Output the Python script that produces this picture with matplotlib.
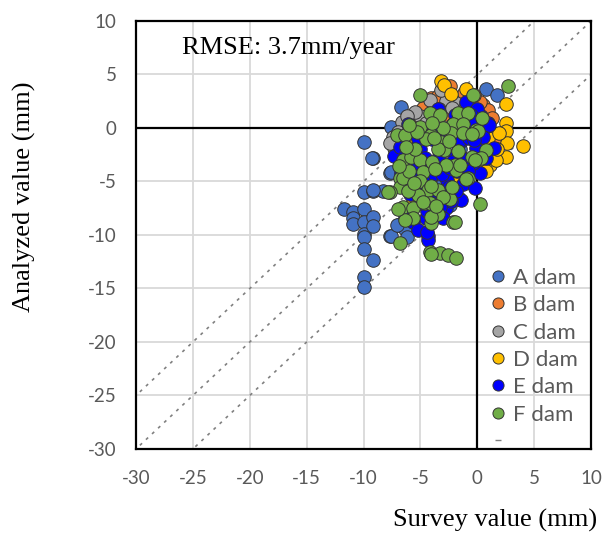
import matplotlib.pyplot as plt
from matplotlib.lines import Line2D
import numpy as np

plt.rcParams["font.family"] = "Lato"
plt.rcParams["axes.unicode_minus"] = False

# survey value (x) vs analyzed value (y), mm
a_x = [-11.7, -10.9, -10.9, -10.9, -10.0, -10.0, -10.0, -10.0, -10.0, -10.0,
       -10.0, -10.0, -9.2, -9.2, -9.2, -9.2, -9.2, -8.3, -10.0, -9.2, -9.3,
       -7.7, -7.7, -7.0, -6.4, -7.6, -6.2, -7.6, -6.7, -7.6, -6.4, -7.1, -2.4,
       0.8, 1.7, -3.5, -1.5]
a_y = [-7.6, -7.9, -8.4, -9.0, -7.6, -8.8, -9.9, -10.2, -11.3, -13.9,
       -14.9, -6.0, -5.9, -8.3, -9.2, -12.3, -2.8, -5.9, -1.3, -5.8, -2.8,
       -4.2, -10.1, -9.1, -9.4, -10.1, -10.2, 0.1, 2.0, -4.1, -8.3, -9.1, -7.2,
       3.6, 3.1, -5.5, -2.0]

b_x = [-2.4, -4.05, -4.8, -2.4, -1.7, 0.5, 0.9, 1.2, -6.5, -1.6, 0.6, 0.2,
       -0.8, -3.0, -1.2, -2.0, -3.5, -2.8, 0.1, -0.3, 1.3, -5.0, 1.5]
b_y = [3.9, 2.8, 1.9, 2.3, 2.8, 2.15, 1.7, -0.5, -1.3, -6.6, -1.1, 2.4,
       2.5, 2.6, 3.3, 1.5, 3.0, 1.3, 0.9, 3.1, 0.9, 0.9, -1.2]

c_x = [-1.85, -5.07, -7.4, -7.35, -5.5, -2.8, -4.5, -6.0, -5.4, -3.4, -6.6,
       -2.2, -7.0, -6.2, -4.2, -1.0, -7.7, -3.2]
c_y = [2.3, 1.1, -0.8, -1.9, 1.5, 2.5, 0.5, -0.3, -0.2, 1.8, 0.6, 1.9,
       -0.4, 1.1, 2.6, 2.1, -1.4, 3.5]

d_x = [-3.2, 2.5, 2.5, 2.55, 2.6, 4.0, 2.5, 1.1, -3.3, -5.1, 0.5, 1.2,
       -5.7, -5.95, -3.75, -5.5, -4.5, 0.3, 1.6, -2.9, 1.7, -1.0, 0.9,
       -4.2, -6.2, 0.8, 1.9, -0.5, -2.0, -4.8, -2.3]
d_y = [4.35, 2.25, 0.5, -0.25, -1.4, -1.7, -2.7, -3.45, 0.1, -1.1, -2.7,
       -2.7, -6.6, -5.5, -0.2, -5.8, -4.0, -3.2, -3.0, 4.0, -2.0, 3.6, -0.9,
       -4.8, -1.5, -4.0, -0.5, 1.0, -4.6, -5.6, 3.2]

e_x = [-6.1, -1.0, 0.3, 0.6, 1.5, 0.2, -1.4, -7.3, -5.8, -5.7, -3.2, -2.1,
       -0.1, -3.6, -4.05, -2.7, -1.3, -0.4, -5.1, -3.3, -5.7, -4.3, -4.3,
       -5.95, -4.5, -5.7, -6.5, -5.0, -2.0, -1.0, -3.5, 0.0, -0.5, -2.5,
       -3.8, -4.8, -5.5, -6.2, -2.8, -1.8, -3.0, -4.0, -0.6, -2.2, -4.6,
       -1.4, -3.1, -6.6, 0.9, -0.2, -6.8, -6.3, -5.2, -4.6, -3.9, -2.6,
       -1.6, -0.7, 0.5, 0.8, -0.8, -1.9, -2.3, -3.3, -4.4, -5.0, -5.9,
       -6.0, -6.7, -4.1, -3.4, -2.4, -1.2, -0.3, -3.6, -4.7, -5.3, -2.0,
       -0.4, 1.0, -3.0, -5.2, -4.4]
e_y = [0.4, 2.4, 1.1, 0.0, -1.9, -4.2, -6.7, -2.6, -3.55, -2.5, -0.3, 0.4,
       -1.9, -6.3, -4.5, -4.9, -5.2, -3.3, -6.4, -3.8, -8.6, -10.1, -10.5,
       -8.0, -8.4, -8.75, -1.4, -2.0, -2.5, 0.0, 1.8, 1.8, -2.8, -5.5,
       -7.0, -5.0, -4.5, -3.2, -7.5, -4.0, -1.5, -1.0, 1.2, -3.2, -2.8,
       -1.2, -4.3, -5.0, 0.5, -5.6, -1.8, -2.4, -1.0, -0.2, 0.2, -0.8,
       -1.2, -0.9, -0.8, -2.8, -4.0, -5.9, -6.8, -7.4, -7.8, -7.0, -6.2,
       -5.3, -4.2, -3.4, -2.6, -3.7, -2.9, -1.1, -5.9, -6.1, -3.3, 1.2,
       0.6, 0.3, -8.4, -9.5, -9.7]

f_x = [2.7, -5.07, -0.4, -4.2, -3.3, -1.7, -0.8, -2.1, -1.3, -5.07, -7.1,
       -6.4, -6.5, -5.8, -6.8, -6.8, -7.7, 0.8, -0.1, 0.2, -2.1, -4.2, -3.3,
       -2.6, -1.9, -4.05, -6.8, -6.5, -5.7, -4.6, -7.85, -5.7, -3.5, -4.05,
       -2.3, -1.3, 0.05, -3.2, -4.05, -0.5, 0.35, -1.7, -2.0, -0.8,
       -1.85, -2.9, -5.07, -4.8, -5.07, -4.3, -5.2, -3.5, -2.4, -4.2, -4.05,
       -2.0, -6.5, -4.5, -3.5, -2.5, -0.2, -1.5, -2.8, -4.0, -3.0,
       -2.2, -1.0, -5.5, -6.0, -3.0, -4.0, 0.4, -6.3, -3.7,
       -6.9, -6.1, -5.6, -3.8, -0.5, -4.1, -4.8, -3.6, -5.3, -6.0, -6.4,
       -7.0]
f_y = [3.9, 3.1, 3.1, 1.4, 1.2, 1.4, 1.4, 0.4, 0.4, 0.1, -0.65, -0.65,
       -3.0, -2.7, -4.7, -5.5, -5.95, -2.1, -0.2, -7.1, -8.75, -11.6, -11.65,
       -11.9, -12.2, -11.8, -10.8, -7.35, -7.5, -7.0, -5.95, -8.4, -8.0, -8.9,
       -0.5, -0.5, -0.3, -1.3, -0.65, -2.7, -2.8, -2.2, -3.45, -4.7,
       -3.9, -2.05, -3.0, -4.1, -5.0, -5.8, -6.3, -5.8, -6.6, -7.0, -8.3,
       -8.75, -4.7, -1.0, -2.0, -1.2, -3.0, -3.5, -3.5, -3.2, -6.5,
       -5.5, -4.8, -2.0, -4.0, 0.0, 0.5, 0.9, -1.8, -3.8,
       -3.6, -5.9, -5.1, -0.9, -0.6, -5.4, -6.9, -7.3, -0.4, 0.3, -8.6,
       -7.6]

series = [("A dam", a_x, a_y, "#4472C4"),
          ("B dam", b_x, b_y, "#ED7D31"),
          ("C dam", c_x, c_y, "#A5A5A5"),
          ("D dam", d_x, d_y, "#FFC000"),
          ("E dam", e_x, e_y, "#0000FF"),
          ("F dam", f_x, f_y, "#70AD47")]

ref_offsets = [5, 0, -5]
ref_x = np.array([-35., 15.])

fig = plt.figure(figsize=(6.02, 5.37), dpi=100)
ax = fig.add_axes([0.226, 0.164, 0.756, 0.797])

ax.set_xlim(-30, 10)
ax.set_ylim(-30, 10)
ax.set_xticks(np.arange(-30, 11, 5))
ax.set_yticks(np.arange(-30, 11, 5))
ax.grid(True, color="#d9d9d9", lw=1.3, zorder=0)
ax.set_axisbelow(True)
ax.tick_params(length=0, labelsize=13.5, labelcolor="#595959")
ax.tick_params(axis="x", pad=15)
ax.tick_params(axis="y", pad=14)
for sp in ax.spines.values():
    sp.set_linewidth(1.6)
    sp.set_color("black")

ax.axhline(0, color="black", lw=1.6, zorder=1)
ax.axvline(0, color="black", lw=1.6, zorder=1)
for off in ref_offsets:
    ax.plot(ref_x, ref_x + off, color="#808080", lw=1.2,
            linestyle=(0, (1.8, 3.2)), zorder=1)

handles = []
for name, xs, ys, col in series:
    ax.scatter(xs, ys, s=95, color=col, edgecolors="#333333",
               linewidths=0.7, zorder=3)
    handles.append(Line2D([], [], marker="o", linestyle="none",
                          markerfacecolor=col, markeredgecolor="#333333",
                          markeredgewidth=0.7, markersize=8))
handles.append(Line2D([], [], marker="_", linestyle="none", color="#808080",
                      markersize=4))
labels = [s[0] for s in series] + [" "]

ax.legend(handles, labels, loc="upper left", bbox_to_anchor=(0.778, 0.423),
          frameon=False, fontsize=16, labelcolor="#595959",
          handlelength=0.7, handletextpad=0.35, labelspacing=0.33,
          borderpad=0, borderaxespad=0)

ax.text(-26, 7.5, "RMSE: 3.7mm/year", family="Liberation Serif",
        fontsize=19, ha="left", va="center")
fig.text(0.992, 1 - 520 / 537, "Survey value (mm)", family="Liberation Serif",
         fontsize=19, ha="right", va="center")
fig.text(0.04, 1 - 197 / 537, "Analyzed value (mm)", family="Liberation Serif",
         fontsize=19, ha="center", va="center", rotation=90)

fig.savefig("out.png", dpi=100)
